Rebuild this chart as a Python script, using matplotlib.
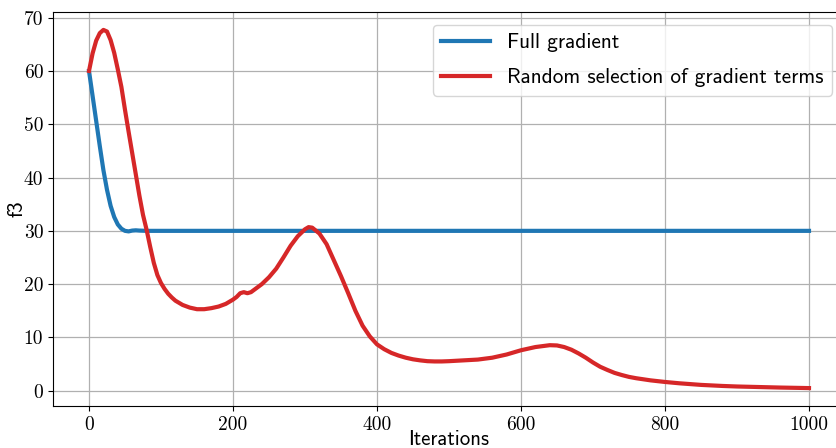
import matplotlib
matplotlib.use("Agg")
import matplotlib.pyplot as plt

# Objective value f3 per iteration for the two update schemes
full_x = [0, 5, 10, 15, 20, 25, 30, 35, 40, 45, 50, 55, 60, 65, 70, 80, 100,
          200, 400, 600, 800, 1000]
full_y = [60, 55.3, 50.6, 45.9, 41.4, 37.7, 34.7, 32.6, 31.2, 30.4, 30.0,
          29.9, 30.05, 30.1, 30.05, 30.0, 30.0, 30.0, 30.0, 30.0, 30.0, 30.0]

rand_x = [0, 5, 10, 15, 20, 25, 30, 35, 40, 45, 50, 55, 60, 65, 70, 75, 80,
          85, 90, 95, 100, 105, 110, 115, 120, 130, 140, 150, 160, 170, 180,
          190, 200, 205, 210, 215, 220, 225, 230, 240, 250, 260, 270, 280,
          290, 300, 305, 310, 320, 330, 340, 350, 360, 370, 380, 390, 400,
          410, 420, 430, 440, 450, 460, 470, 480, 490, 500, 520, 540, 560,
          580, 600, 620, 640, 650, 660, 670, 680, 690, 700, 710, 720, 730,
          740, 750, 760, 780, 800, 820, 850, 880, 900, 930, 960, 1000]
rand_y = [60, 63.3, 65.7, 67.1, 67.7, 67.4, 65.8, 63.4, 60.3, 57.0, 52.7,
          48.6, 44.6, 40.6, 36.6, 33.0, 30.2, 27.0, 24.0, 21.7, 20.2, 19.1,
          18.2, 17.5, 16.9, 16.1, 15.6, 15.3, 15.3, 15.5, 15.8, 16.3, 17.1,
          17.6, 18.3, 18.5, 18.3, 18.5, 19.0, 20.0, 21.3, 22.9, 25.0, 27.2,
          29.0, 30.3, 30.7, 30.6, 29.5, 27.5, 24.5, 21.5, 18.3, 15.0, 12.2,
          10.2, 8.7, 7.8, 7.1, 6.6, 6.2, 5.9, 5.7, 5.55, 5.5, 5.5, 5.55, 5.7,
          5.85, 6.2, 6.8, 7.6, 8.2, 8.55, 8.5, 8.2, 7.7, 7.0, 6.2, 5.3, 4.5,
          3.9, 3.35, 2.95, 2.6, 2.35, 1.95, 1.65, 1.4, 1.1, 0.9, 0.8, 0.7,
          0.6, 0.5]

labels = ["Full gradient", "Random selection of gradient terms"]
colors = ["#1f77b4", "#d62728"]

sans = "cmss10"
serif = "cmr10"

fig = plt.figure(figsize=(8.37, 4.48), dpi=100)
ax = fig.add_axes([53 / 837, 42 / 448, 792 / 837, 394 / 448])

ax.plot(full_x, full_y, color=colors[0], lw=3, label=labels[0])
ax.plot(rand_x, rand_y, color=colors[1], lw=3, label=labels[1])

ax.grid(True, color="#b0b0b0", lw=0.9)
ax.set_axisbelow(True)
ax.set_xticks([0, 200, 400, 600, 800, 1000])
ax.set_yticks([0, 10, 20, 30, 40, 50, 60, 70])
for lab in ax.get_xticklabels() + ax.get_yticklabels():
    lab.set_fontfamily(serif)
    lab.set_fontsize(14)

ax.set_xlabel("Iterations", fontfamily=sans, fontsize=15)
ax.set_ylabel("f3", fontfamily=sans, fontsize=15)
ax.xaxis.set_label_coords(0.5, -0.06)
ax.yaxis.set_label_coords(-0.034, 0.5)

ax.legend(loc="upper right", prop={"family": sans, "size": 15.3},
          handlelength=2.3, labelspacing=0.75, borderaxespad=0.6,
          framealpha=0.8)

fig.savefig("out.png", dpi=100)
